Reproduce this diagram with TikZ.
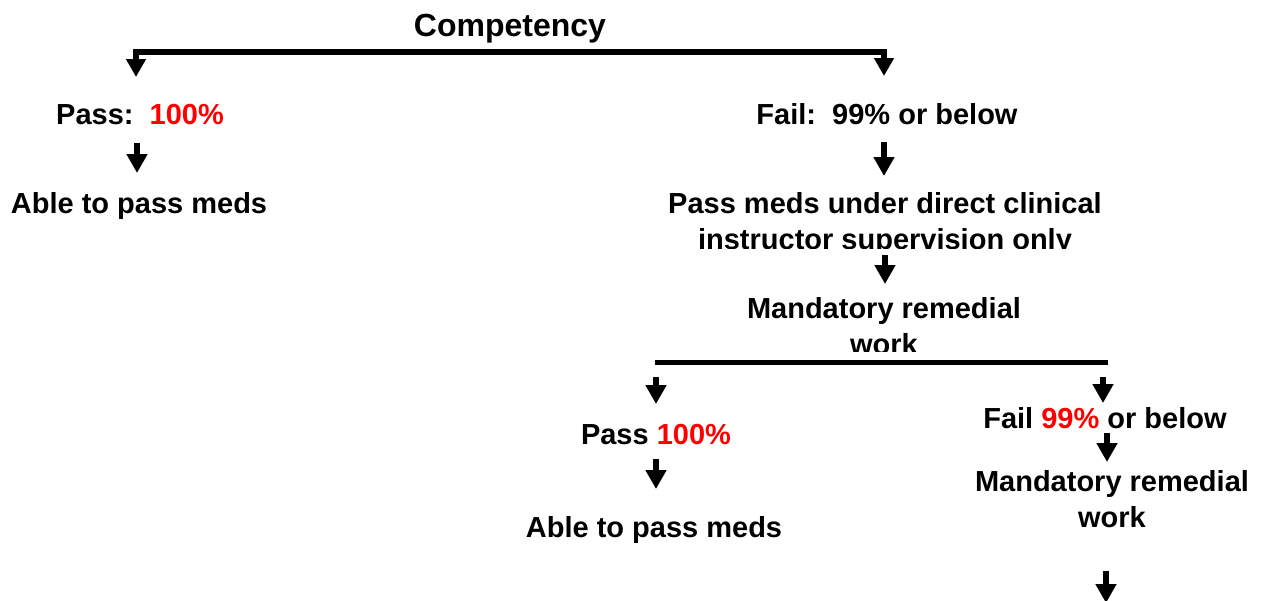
\documentclass[tikz,border=0pt]{standalone}
\usepackage{fontspec}
\setmainfont{Liberation Sans}
\usepackage{xcolor}
\colorlet{colorScore}{red}
\usetikzlibrary{arrows.meta, positioning}
\tikzset{
  txt/.style={inner sep=0pt, anchor=north, align=center, font=\fontsize{29}{36}\selectfont\bfseries},
  arr/.style={-{Triangle[width=20pt,length=19pt]}, line width=5.5pt},
  bigarr/.style={-{Triangle[width=19pt,length=18pt]}, line width=5.5pt, line join=miter},
  bar/.style={line width=5.5pt}
}

\begin{document}
\begin{tikzpicture}[x=1pt, y=-1pt]
\useasboundingbox (0,0) rectangle (1264,600);
% top split
\node[txt] (comp) at (510,14) {\fontsize{32}{38}\selectfont Competency};
\coordinate[below=8.8pt of comp] (split1);
\node[txt] (pass) at (140,104) {Pass:\ \ \textcolor{colorScore}{100\%}};
\node[txt] (able) at (139,192) {Able to pass meds};
\node[txt] (fail) at (887,103) {Fail:\ \ 99\% or below};
\begin{scope}
\clip (0,0) rectangle (1264,248);
\node[txt] (meds) at (885,192) {Pass meds under direct clinical\\instructor supervision only};
\end{scope}
\begin{scope}
\clip (0,0) rectangle (1264,351);
\node[txt] (mand) at (884,297) {Mandatory remedial\\work};
\end{scope}
% second split
\coordinate (split2) at (655,362.5);
\coordinate (split2e) at (1108,362.5);
\node[txt] (pass2) at (656,424) {Pass \textcolor{colorScore}{100\%}};
\node[txt] (able2) at (654,516) {Able to pass meds};
\node[txt] (fail2) at (1105,407) {Fail \textcolor{colorScore}{99\%} or below};
\node[txt] (mand2) at (1112,470) {Mandatory remedial\\work};
\coordinate (more) at (1106,603);

\draw[bigarr, shorten >=27pt] (split1) -| ([xshift=-4pt]pass.north);
\draw[bigarr, shorten >=27pt] (split1) -| ([xshift=-3pt]fail.north);
\draw[arr, shorten <=18pt, shorten >=19pt] ([xshift=-3pt]pass.south) -- ([xshift=-3pt]pass.south |- able.north);
\draw[arr, shorten <=17pt, shorten >=16pt] ([xshift=-3pt]fail.south) -- ([xshift=-3pt]fail.south |- meds.north);
\draw[arr, shorten >=13pt] (meds.south) -- (meds.south |- mand.north);
\draw[bar] (split2) -- (split2e);
\draw[arr, shorten <=14.5pt, shorten >=20pt] (pass2.north |- split2) -- (pass2.north);
\draw[arr, shorten <=14.5pt, shorten >=4pt] ([xshift=-2pt]fail2.north |- split2) -- ([xshift=-2pt]fail2.north);
\draw[arr, shorten <=14pt, shorten >=27pt] (pass2.south) -- (pass2.south |- able2.north);
\draw[arr, shorten <=4pt, shorten >=8pt] ([xshift=2pt]fail2.south) -- ([xshift=2pt]fail2.south |- mand2.north);
\draw[arr, shorten <=43pt] (mand2.south -| more) -- (more);
\end{tikzpicture}
\end{document}
